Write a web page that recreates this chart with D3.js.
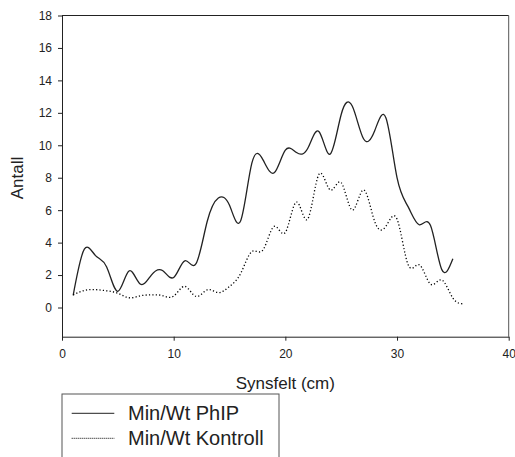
<!DOCTYPE html>
<html>
<head>
<meta charset="utf-8">
<script src="https://cdn.jsdelivr.net/npm/d3@7"></script>
<style>
  body { margin: 0; background: #fff; }
  svg { display: block; font-family: 'Liberation Sans', Arial, sans-serif; }
  .tick text { font-size: 12px; fill: #222; }
</style>
</head>
<body>
<svg id="chart" width="515" height="457"></svg>
<script>
// Synsfelt (cm) positions
const xPhip     = d3.range(1, 36);
const xKontroll = d3.range(1, 37);

const phip = [0.75, 3.6, 3.2, 2.5, 1.0, 2.25, 1.45, 2.0, 2.28, 1.85,
              2.88, 2.7, 5.3, 6.75, 6.3, 5.35, 8.9, 9.1, 8.3, 9.7,
              9.55, 9.8, 10.85, 9.45, 11.9, 12.4, 10.4, 10.9, 11.7, 8.0,
              6.2, 5.1, 5.05, 2.35, 3.0];

const kontroll = [0.78, 1.05, 1.1, 1.03, 0.88, 0.6, 0.72, 0.78, 0.73, 0.7,
                  1.3, 0.68, 1.09, 0.92, 1.3, 2.1, 3.45, 3.55, 5.0, 4.63,
                  6.5, 5.45, 8.2, 7.25, 7.7, 6.0, 7.25, 5.3, 5.0, 5.45,
                  2.63, 2.63, 1.44, 1.7, 0.58, 0.23];

const xTicks = [0, 10, 20, 30, 40];
const yTicks = [0, 2, 4, 6, 8, 10, 12, 14, 16, 18];
const legendLabels = ['Min/Wt PhIP', 'Min/Wt Kontroll'];

const LEFT = 62, RIGHT = 508.7, TOP = 15.5, BOTTOM = 336.7;

const svg = d3.select('#chart');

const x = d3.scaleLinear().domain([0, 40]).range([LEFT, RIGHT]);
const y = d3.scaleLinear().domain([-1.8, 18]).range([BOTTOM, TOP]);

// frame (top + right)
svg.append('line')
  .attr('x1', LEFT).attr('x2', RIGHT).attr('y1', TOP).attr('y2', TOP)
  .attr('stroke', '#222');
svg.append('line')
  .attr('x1', RIGHT).attr('x2', RIGHT).attr('y1', TOP).attr('y2', BOTTOM)
  .attr('stroke', '#555');

svg.append('g')
  .attr('transform', `translate(0,${BOTTOM})`)
  .call(d3.axisBottom(x).tickValues(xTicks).tickSize(4).tickPadding(9).tickSizeOuter(0))
  .call(g => g.selectAll('line, path').attr('stroke', '#222'));

svg.append('g')
  .attr('transform', `translate(${LEFT},0)`)
  .call(d3.axisLeft(y).tickValues(yTicks).tickSize(4).tickPadding(6).tickSizeOuter(0))
  .call(g => g.selectAll('line, path').attr('stroke', '#222'));

const line = d3.line()
  .x(d => x(d[0]))
  .y(d => y(d[1]))
  .curve(d3.curveNatural);

svg.append('path')
  .datum(d3.zip(xPhip, phip))
  .attr('d', line)
  .attr('fill', 'none')
  .attr('stroke', '#222')
  .attr('stroke-width', 1.3);

svg.append('path')
  .datum(d3.zip(xKontroll, kontroll))
  .attr('d', line)
  .attr('fill', 'none')
  .attr('stroke', '#000')
  .attr('stroke-width', 1.3)
  .attr('stroke-dasharray', '1.2,2.2');

// axis titles
svg.append('text')
  .attr('x', (LEFT + RIGHT) / 2).attr('y', 389)
  .attr('text-anchor', 'middle')
  .attr('font-size', 17).attr('fill', '#222')
  .text('Synsfelt (cm)');

svg.append('text')
  .attr('transform', 'translate(23,178) rotate(-90)')
  .attr('text-anchor', 'middle')
  .attr('font-size', 17).attr('fill', '#222')
  .text('Antall');

// legend
const legend = svg.append('g');
legend.append('rect')
  .attr('x', 62).attr('y', 394)
  .attr('width', 217).attr('height', 80)
  .attr('fill', 'none').attr('stroke', '#555');

legend.selectAll('.entry')
  .data(legendLabels)
  .enter().append('g')
    .attr('class', 'entry')
    .attr('transform', (d, i) => `translate(0,${413.3 + i * 25})`)
    .each(function(d, i) {
      const g = d3.select(this);
      g.append('line')
        .attr('x1', 71.7).attr('x2', 114.3)
        .attr('stroke', i ? '#000' : '#222')
        .attr('stroke-width', 1)
        .attr('stroke-dasharray', i ? '1,1' : null);
      g.append('text')
        .attr('x', 128).attr('y', 7)
        .attr('font-size', 20).attr('fill', '#222')
        .text(d);
    });
</script>
</body>
</html>
